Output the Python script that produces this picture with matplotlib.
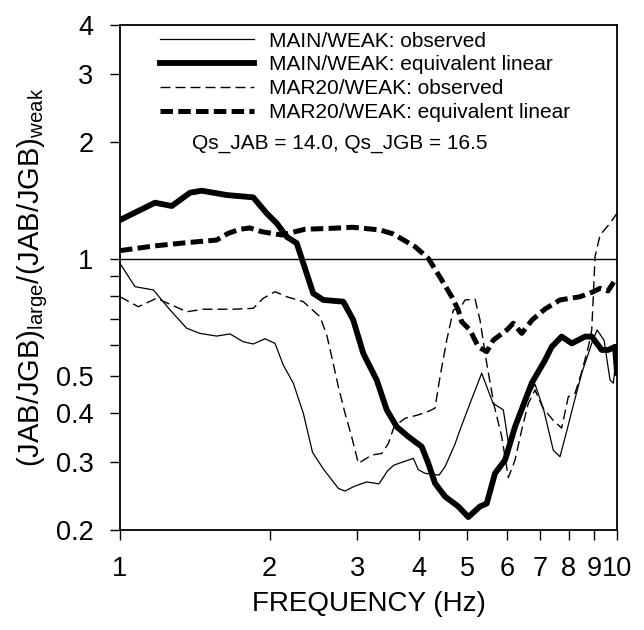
import matplotlib
matplotlib.use('Agg')
import matplotlib.pyplot as plt
from matplotlib.ticker import FixedLocator, FixedFormatter, NullFormatter, NullLocator

plt.rcParams['font.family'] = ['Liberation Sans', 'DejaVu Sans']
plt.rcParams['mathtext.fontset'] = 'custom'
plt.rcParams['mathtext.rm'] = 'Liberation Sans'
plt.rcParams['mathtext.it'] = 'Liberation Sans:italic'
plt.rcParams['mathtext.bf'] = 'Liberation Sans:bold'
plt.rcParams['lines.scale_dashes'] = False

# ---------------- data ----------------
f_main_obs = [1.0, 1.072, 1.167, 1.261, 1.362, 1.449, 1.565, 1.665, 1.770, 1.854, 1.958, 2.051,
              2.131, 2.232, 2.338, 2.440, 2.562, 2.750, 2.836, 2.957, 3.136, 3.320, 3.453, 3.559,
              3.892, 3.983, 4.109, 4.384, 4.507, 4.721, 4.831, 5.061, 5.343, 5.630, 5.905, 6.040,
              6.284, 6.530, 6.839, 7.120, 7.444, 7.678, 7.933, 8.121, 8.492, 8.894, 9.116, 9.417,
              9.681, 9.831, 10.0]
v_main_obs = [0.973, 0.847, 0.831, 0.738, 0.662, 0.642, 0.632, 0.640, 0.611, 0.603, 0.622, 0.605,
              0.532, 0.478, 0.400, 0.317, 0.288, 0.256, 0.252, 0.259, 0.266, 0.263, 0.284, 0.294,
              0.306, 0.286, 0.280, 0.277, 0.291, 0.333, 0.362, 0.424, 0.507, 0.424, 0.408, 0.338,
              0.384, 0.430, 0.475, 0.408, 0.321, 0.309, 0.362, 0.408, 0.507, 0.605, 0.655, 0.617,
              0.487, 0.478, 0.582]

f_main_eq = [1.0, 1.176, 1.271, 1.383, 1.460, 1.639, 1.854, 1.973, 2.067, 2.165, 2.268, 2.338,
             2.448, 2.565, 2.814, 2.947, 3.087, 3.184, 3.285, 3.441, 3.604, 3.803, 4.046, 4.172,
             4.303, 4.507, 4.793, 5.022, 5.301, 5.468, 5.683, 5.953, 6.235, 6.736, 7.165, 7.389,
             7.738, 8.109, 8.622, 8.894, 9.316, 9.605, 9.908, 10.0]
v_main_eq = [1.258, 1.394, 1.367, 1.479, 1.497, 1.459, 1.439, 1.309, 1.234, 1.139, 1.096, 0.973,
             0.814, 0.783, 0.775, 0.695, 0.570, 0.527, 0.487, 0.408, 0.369, 0.348, 0.328, 0.297,
             0.264, 0.244, 0.230, 0.216, 0.230, 0.234, 0.280, 0.303, 0.369, 0.478, 0.548, 0.593,
             0.630, 0.605, 0.630, 0.630, 0.582, 0.582, 0.593, 0.508]

f_mar_obs = [1.0, 1.089, 1.185, 1.362, 1.471, 1.690, 1.854, 1.943, 2.051, 2.165, 2.338, 2.526,
             2.606, 2.667, 2.750, 2.836, 2.925, 3.017, 3.210, 3.362, 3.467, 3.559, 3.745, 3.983,
             4.205, 4.303, 4.405, 4.544, 4.685, 4.831, 4.945, 5.181, 5.301, 5.468, 5.656, 5.862,
             6.045, 6.235, 6.430, 6.630, 6.839, 7.099, 7.433, 7.738, 7.980, 8.232, 8.492, 8.756,
             8.894, 8.960, 9.031, 9.245, 9.681, 10.0]
v_mar_obs = [0.798, 0.752, 0.791, 0.730, 0.741, 0.741, 0.745, 0.791, 0.822, 0.798, 0.775, 0.709,
             0.636, 0.559, 0.468, 0.400, 0.348, 0.297, 0.312, 0.315, 0.334, 0.369, 0.388, 0.396,
             0.406, 0.412, 0.497, 0.617, 0.738, 0.745, 0.783, 0.786, 0.695, 0.538, 0.420, 0.348,
             0.273, 0.303, 0.362, 0.424, 0.459, 0.412, 0.384, 0.366, 0.441, 0.450, 0.511, 0.593,
             0.655, 0.798, 1.012, 1.151, 1.234, 1.309]

f_mar_eq = [1.0, 1.167, 1.362, 1.565, 1.652, 1.744, 1.826, 1.928, 2.115, 2.250, 2.357, 2.686,
            2.937, 3.336, 3.547, 3.923, 4.172, 4.440, 4.650, 4.793, 4.869, 5.061, 5.259, 5.468,
            5.638, 6.000, 6.186, 6.430, 6.745, 7.165, 7.678, 8.426, 8.960, 9.245, 9.592, 9.908]
v_mar_eq = [1.049, 1.078, 1.100, 1.117, 1.163, 1.191, 1.200, 1.174, 1.151, 1.174, 1.191, 1.198,
            1.205, 1.186, 1.158, 1.074, 1.002, 0.881, 0.798, 0.738, 0.688, 0.655, 0.593, 0.576,
            0.617, 0.655, 0.682, 0.642, 0.695, 0.742, 0.783, 0.798, 0.822, 0.839, 0.826, 0.881]

x_ticks = [1, 2, 3, 4, 5, 6, 7, 8, 9, 10]
x_ticklabels = ['1', '2', '3', '4', '5', '6', '7', '8', '9', '10']
y_ticks = [0.2, 0.3, 0.4, 0.5, 1, 2, 3, 4]
y_ticklabels = ['0.2', '0.3', '0.4', '0.5', '1', '2', '3', '4']
y_minor = [0.6, 0.7, 0.8, 0.9]

labels = ['MAIN/WEAK: observed', 'MAIN/WEAK: equivalent linear',
          'MAR20/WEAK: observed', 'MAR20/WEAK: equivalent linear']
q_text = 'Qs_JAB = 14.0, Qs_JGB = 16.5'

# ---------------- figure ----------------
fig = plt.figure(figsize=(6.44, 6.30), dpi=100)
ax = fig.add_axes([0.1863, 0.1587, 0.7718, 0.8016])

ax.axhline(1.0, color='black', lw=1.0, zorder=1)
ax.plot(f_main_obs, v_main_obs, color='black', lw=0.9, label=labels[0])
ax.plot(f_main_eq, v_main_eq, color='black', lw=4.2, solid_joinstyle='round', label=labels[1])
ax.plot(f_mar_obs, v_mar_obs, color='black', lw=1.0, dashes=(7.2, 3.6), label=labels[2])
ax.plot(f_mar_eq, v_mar_eq, color='black', lw=3.6, dashes=(9.0, 3.8), label=labels[3])

ax.set_xscale('log')
ax.set_yscale('log')
ax.set_xlim(1, 10)
ax.set_ylim(0.2, 4)

ax.xaxis.set_major_locator(FixedLocator(x_ticks))
ax.xaxis.set_major_formatter(FixedFormatter(x_ticklabels))
ax.xaxis.set_minor_locator(NullLocator())
ax.yaxis.set_major_locator(FixedLocator(y_ticks))
ax.yaxis.set_major_formatter(FixedFormatter(y_ticklabels))
ax.yaxis.set_minor_locator(FixedLocator(y_minor))
ax.yaxis.set_minor_formatter(NullFormatter())

ax.tick_params(axis='both', which='both', direction='out', length=7, width=1.0,
               labelsize=19.5, colors='black')
ax.tick_params(axis='x', pad=12)
ax.tick_params(axis='y', pad=12)
for s in ax.spines.values():
    s.set_linewidth(1.3)

ax.set_xlabel('FREQUENCY (Hz)', fontsize=20, labelpad=6)
ax.set_ylabel(r'(JAB/JGB)$_{\mathrm{large}}$/(JAB/JGB)$_{\mathrm{weak}}$', fontsize=21, labelpad=4)

ax.legend(loc='upper left', bbox_to_anchor=(0.0805, 0.987), frameon=False, fontsize=15,
          handlelength=4.5, handletextpad=0.72, labelspacing=0.23, borderaxespad=0, borderpad=0)
ax.text(0.145, 0.766, q_text, transform=ax.transAxes, fontsize=15, va='center', ha='left')

fig.savefig('out.png', dpi=100)
